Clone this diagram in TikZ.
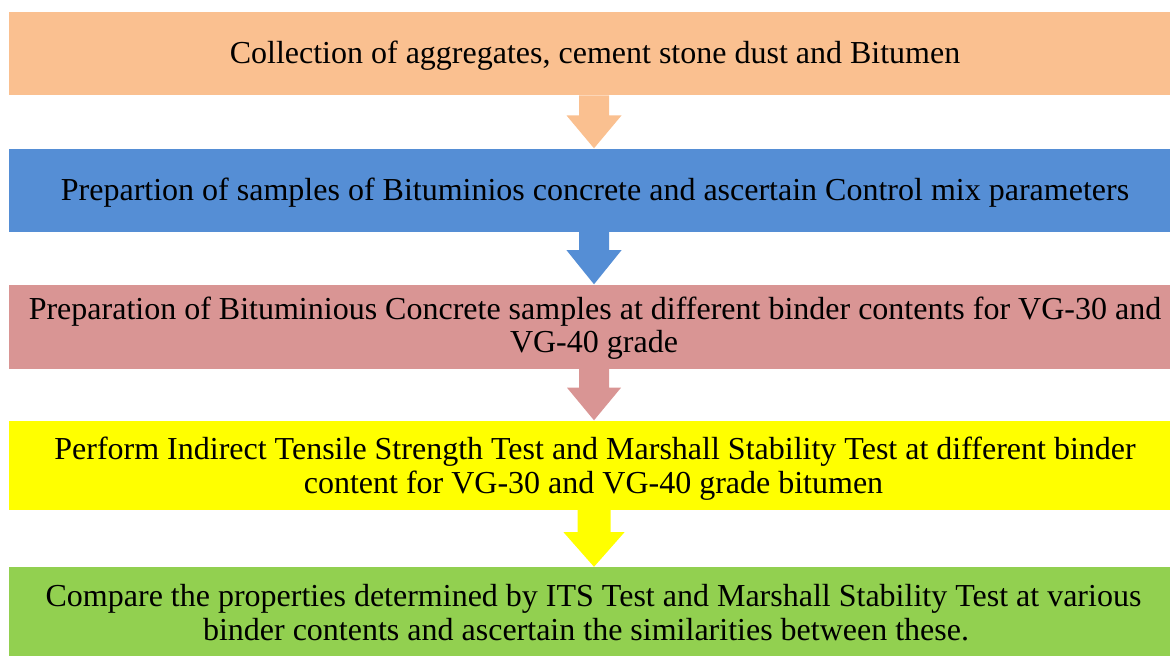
\documentclass[tikz,border=0pt]{standalone}
\usepackage{fontspec}
\setmainfont{Liberation Serif}
\usetikzlibrary{calc}
\definecolor{c1}{HTML}{FAC090}
\definecolor{c2}{HTML}{558ED5}
\definecolor{c3}{HTML}{D99594}
\definecolor{c4}{HTML}{FFFF00}
\definecolor{c5}{HTML}{92D050}
\tikzset{
  stepbox/.style={rectangle, inner sep=0pt, minimum width=1161pt, anchor=center},
  txt/.style={inner sep=0pt, anchor=base, font=\fontsize{32}{34}\selectfont},
}
\newcommand{\blockarr}[6]{%
  \fill[#3] ($(#1.south -| ax)+(-#4,0)$) -- ($(#1.south -| ax)+(-#4,#6)$) -- ($(#1.south -| ax)+(-#5,#6)$)
   -- (#2.north -| ax) -- ($(#1.south -| ax)+(#5,#6)$) -- ($(#1.south -| ax)+(#4,#6)$) -- ($(#1.south -| ax)+(#4,0)$) -- cycle;}
\begin{document}
\begin{tikzpicture}[x=1pt,y=-1pt]
\useasboundingbox (0,0) rectangle (1170,656);
\coordinate (ax) at (594,0);
\node[stepbox, fill=c1, minimum height=83.5pt] (b1) at (589.5,53.5) {};
\node[stepbox, fill=c2, minimum height=83.5pt] (b2) at (589.5,190.25) {};
\node[stepbox, fill=c3, minimum height=84pt] (b3) at (589.5,326.5) {};
\node[stepbox, fill=c4, minimum height=89.5pt] (b4) at (589.5,465.25) {};
\node[stepbox, fill=c5, minimum height=89pt] (b5) at (589.5,611.5) {};
\blockarr{b1}{b2}{c1}{15}{27.5}{20}
\blockarr{b2}{b3}{c2}{15}{27.5}{18}
\blockarr{b3}{b4}{c3}{15}{27}{19}
\blockarr{b4}{b5}{c4}{16.5}{30.5}{22}
\node[txt] (t1) at (595,63) {Collection of aggregates, cement stone dust and Bitumen};
\node[txt] (t2) at (595,200) {Prepartion of samples of Bituminios concrete and ascertain Control mix parameters};
\node[txt] (t3a) at (595,319) {Preparation of Bituminious Concrete samples at different binder contents for VG-30 and};
\node[txt] (t3b) at (594,352) {VG-40 grade};
\node[txt] (t4a) at (595,459) {Perform Indirect Tensile Strength Test and Marshall Stability Test at different binder};
\node[txt] (t4b) at (593.5,493) {content for VG-30 and VG-40 grade bitumen};
\node[txt] (t5a) at (593.5,606) {Compare the properties determined by ITS Test and Marshall Stability Test at various};
\node[txt] (t5b) at (586,640) {binder contents and ascertain the similarities between these.};
\end{tikzpicture}
\end{document}
